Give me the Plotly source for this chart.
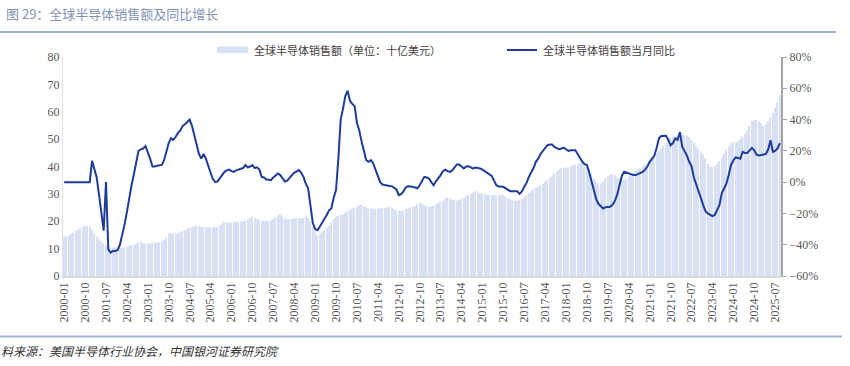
import plotly.graph_objects as go

# ---- data ----
years = list(range(2000, 2026))
months = [f"{y}-{m:02d}" for y in years for m in range(1, 13)][:309]  # 2000-01 .. 2025-09

sales = [
    14.3, 14.6, 15.0, 15.4, 15.8, 16.5, 17.0, 17.5, 18.0, 18.3, 18.4, 18.2,   # 2000
    17.0, 15.5, 14.5, 13.5, 12.8, 12.0, 11.4, 10.9, 10.5, 10.3, 10.4, 10.5,   # 2001
    10.2, 10.2, 10.4, 10.8, 11.0, 11.3, 11.5, 11.8, 12.2, 12.5, 12.0, 11.9,   # 2002
    11.8, 11.9, 12.0, 12.1, 12.2, 12.3, 12.6, 13.2, 14.0, 15.5, 15.8, 15.4,   # 2003
    15.3, 15.6, 16.0, 16.4, 16.8, 17.2, 17.6, 18.0, 18.3, 18.4, 18.3, 18.0,   # 2004
    17.8, 17.7, 17.7, 17.8, 17.8, 17.9, 18.0, 18.5, 19.2, 19.8, 19.6, 19.5,   # 2005
    19.5, 19.6, 19.8, 19.8, 19.9, 20.0, 20.2, 20.6, 21.2, 21.8, 21.3, 20.8,   # 2006
    20.4, 20.2, 20.2, 20.1, 20.2, 20.4, 20.8, 21.4, 22.2, 22.6, 22.0, 21.2,   # 2007
    20.8, 20.8, 20.9, 21.0, 21.1, 21.0, 21.0, 21.2, 21.6, 21.2, 20.0, 18.4,   # 2008
    16.5, 15.0, 15.3, 16.0, 17.0, 17.6, 18.4, 19.6, 20.8, 21.6, 22.0, 22.3,   # 2009
    22.6, 23.0, 23.6, 24.2, 24.6, 25.0, 25.4, 25.8, 26.0, 25.6, 25.0, 24.8,   # 2010
    24.7, 24.6, 24.6, 24.6, 24.7, 24.8, 24.8, 25.0, 25.3, 25.0, 24.5, 24.0,   # 2011
    23.9, 23.7, 24.0, 24.4, 24.8, 25.1, 25.3, 25.6, 26.2, 26.8, 26.5, 26.0,   # 2012
    25.6, 25.3, 25.4, 25.6, 26.2, 26.8, 27.0, 27.4, 28.2, 28.7, 28.4, 28.0,   # 2013
    27.7, 27.5, 27.8, 28.2, 28.6, 29.2, 29.6, 30.0, 30.6, 31.0, 30.6, 30.2,   # 2014
    30.0, 29.8, 29.7, 29.6, 29.6, 29.7, 29.6, 29.5, 29.6, 29.6, 29.0, 28.5,   # 2015
    28.0, 27.6, 27.5, 27.6, 27.8, 28.0, 28.8, 29.6, 30.2, 31.0, 31.6, 32.2,   # 2016
    32.6, 33.2, 33.8, 34.5, 35.2, 36.0, 36.8, 37.6, 38.4, 39.0, 39.4, 39.6,   # 2017
    39.4, 39.8, 40.2, 40.5, 40.8, 41.0, 41.2, 41.3, 41.2, 40.5, 39.0, 37.5,   # 2018
    35.8, 34.5, 33.9, 34.0, 34.6, 35.5, 36.3, 37.0, 37.2, 36.8, 36.0, 35.5,   # 2019
    35.0, 35.2, 35.8, 36.6, 37.2, 37.8, 38.5, 39.0, 39.5, 40.2, 40.6, 41.0,   # 2020
    41.6, 42.5, 43.5, 44.8, 45.8, 46.6, 47.6, 48.6, 49.8, 50.6, 51.0, 51.0,   # 2021
    51.0, 51.2, 51.5, 51.5, 51.3, 50.8, 49.8, 48.8, 47.6, 46.4, 45.5, 44.5,   # 2022
    43.0, 41.0, 40.0, 39.8, 40.2, 41.0, 42.0, 43.4, 44.8, 46.0, 47.4, 48.4,   # 2023
    48.8, 48.9, 49.2, 50.0, 51.0, 52.0, 53.2, 54.8, 56.5, 57.2, 57.0, 56.5,   # 2024
    55.8, 54.8, 55.3, 56.5, 58.0, 59.5, 61.5, 63.5, 66.0,                     # 2025
]

yoy = [
    0, 0, 0, 0, 0, 0, 0, 0, 0, 0, 0, 0,                                        # 2000
    13.6, 8, 3, -8, -20, -31, 0, -43, -45, -44, -44, -43.5,                    # 2001
    -40, -34, -27, -19, -10, -2, 5, 13, 20, 21, 21.5, 23,                      # 2002
    19.5, 15, 10, 10, 10.5, 11, 11, 14, 20, 25, 28, 27,                        # 2003
    29, 31.5, 33, 36, 37, 38.5, 40, 36, 30, 23, 18, 15,                        # 2004
    18, 15, 10, 6, 2, 0, 0.5, 2.5, 4.5, 6.6, 7.5, 8,                           # 2005
    7, 6.6, 7.5, 8, 8.7, 9, 10.9, 9.4, 10, 10.9, 9, 9.5,                       # 2006
    8, 3.4, 3, 1.7, 1.5, 1.3, 3, 4.5, 5.5, 4.5, 2, 0.4,                        # 2007
    1, 3, 4.5, 6, 7, 7.7, 6, 3.4, -1, -4, -15, -26,                            # 2008
    -30, -30.7, -28.5, -26, -24, -21, -18, -16.8, -10, -5, 15, 40,             # 2009
    47, 55, 58.4, 52, 50, 48.6, 38, 33, 26, 20, 14, 13,                        # 2010
    14, 12, 8, 3, 0, -1.5, -2, -2.5, -2.5, -2.6, -3.5, -4.7,                   # 2011
    -8.3, -7.7, -6, -3.4, -2.6, -2.6, -3, -3.4, -4, -2, 1, 3.4,                # 2012
    3, 2.3, 0, -2, 0.5, 2.3, 4.5, 7, 8, 7, 6.6, 7.5,                           # 2013
    9.5, 11.3, 11.3, 10.2, 8.7, 10, 10.2, 9.5, 8.7, 9.4, 9.2, 8.7,             # 2014
    8, 7, 6.2, 5, 4, 1, -2, -2.8, -3, -3, -4, -4.7,                            # 2015
    -5.8, -5.8, -6, -5.8, -7.5, -6, -3, -0.5, 3.4, 6, 9, 13,                   # 2016
    15, 18, 20, 21.5, 23.6, 24, 24, 22.5, 21.5, 21, 21.5, 22,                  # 2017
    21, 20, 20.4, 20.4, 20.4, 18, 15, 13, 11.5, 10.9, 6, 0,                    # 2018
    -7, -11, -14, -15.5, -16.8, -16, -15.8, -15.8, -14.5, -12, -8, -1,         # 2019
    4, 6.6, 6, 5.5, 5, 4.5, 4.5, 5, 5.5, 6.5, 8, 10,                           # 2020
    13, 15, 17, 22, 28, 29.5, 29.7, 29.7, 27, 23.6, 25, 27.9,                  # 2021
    27, 32, 22.6, 20, 17, 13, 10.2, 3, -1, -5, -10, -14.7,                     # 2022
    -18.5, -20, -21, -21.7, -21, -18, -14.7, -7.2, -4, -1, 4.5, 11,            # 2023
    14, 15.8, 15.5, 15, 19.4, 18.7, 18.7, 20, 21.9, 20.4, 17.5, 17,            # 2024
    17.5, 17.7, 18, 21, 26.8, 19.4, 20, 21.5, 25,                              # 2025
]

tick_labels = months[::9]

name_bar = "全球半导体销售额（单位：十亿美元）"
name_line = "全球半导体销售额当月同比"
title_text = "图 29：全球半导体销售额及同比增长"
source_text = "料来源：美国半导体行业协会，中国银河证券研究院"

BAR_COLOR = "#d7e1f3"
LINE_COLOR = "#1f3c98"

# ---- figure ----
fig = go.Figure()
fig.add_trace(go.Bar(x=months, y=sales, name=name_bar, marker=dict(color=BAR_COLOR, line=dict(width=0)),
                     yaxis="y", showlegend=False))
fig.add_trace(go.Scatter(x=months, y=yoy, name=name_line, mode="lines",
                         line=dict(color=LINE_COLOR, width=2), yaxis="y2", showlegend=False))

W, H = 850, 366
L, R, T, B = 63, 781, 57, 276
pw, ph = R - L, B - T


def px(x):
    return (x - L) / pw


def py(y):
    return (B - y) / ph


tickfont = dict(family='"Liberation Serif", "Times New Roman", serif', size=12, color="#595959")

fig.update_layout(
    width=W, height=H,
    margin=dict(l=L, r=W - R, t=T, b=H - B, autoexpand=False),
    paper_bgcolor="white", plot_bgcolor="white",
    bargap=0.42,
    showlegend=False,
    xaxis=dict(type="category", tickmode="array", tickvals=tick_labels, ticktext=tick_labels,
               tickangle=-90, tickfont=tickfont, showgrid=False, showline=True,
               linecolor="#d9d9d9", linewidth=1.5, ticks="", automargin=False,
               range=[-0.5, len(months) - 0.5]),
    yaxis=dict(range=[0, 80], dtick=10, tickfont=tickfont, showgrid=False, zeroline=False,
               showline=True, linecolor="#e3e3e3", linewidth=1, ticks="", automargin=False),
    yaxis2=dict(range=[-60, 80], dtick=20, ticksuffix="%", overlaying="y", side="right",
                tickfont=tickfont, showgrid=False, zeroline=False, showline=True,
                linecolor="#a6a6a6", linewidth=2, ticks="outside", ticklen=4,
                tickcolor="#a6a6a6", automargin=False),
    font=dict(family='"Noto Sans CJK SC", sans-serif'),
)

# header / footer rules
fig.add_shape(type="line", xref="paper", yref="paper", x0=px(0), x1=px(836), y0=py(32), y1=py(32),
              line=dict(color="#9fb1d3", width=2))
fig.add_shape(type="line", xref="paper", yref="paper", x0=px(0), x1=px(842), y0=py(336.5), y1=py(336.5),
              line=dict(color="#9fb1d3", width=2))

# custom legend
fig.add_shape(type="rect", xref="paper", yref="paper", x0=px(217), x1=px(248), y0=py(53), y1=py(46.5),
              fillcolor=BAR_COLOR, line=dict(width=0))
fig.add_shape(type="line", xref="paper", yref="paper", x0=px(507), x1=px(537), y0=py(50), y1=py(50),
              line=dict(color=LINE_COLOR, width=2))
legfont = dict(family='"Noto Sans CJK SC", sans-serif', size=11, color="#404040")
fig.add_annotation(xref="paper", yref="paper", x=px(252), y=py(50), text=name_bar, showarrow=False,
                   xanchor="left", yanchor="middle", font=legfont)
fig.add_annotation(xref="paper", yref="paper", x=px(541), y=py(50), text=name_line, showarrow=False,
                   xanchor="left", yanchor="middle", font=legfont)

# title
fig.add_annotation(xref="paper", yref="paper", x=px(4), y=py(13), text=title_text, showarrow=False,
                   xanchor="left", yanchor="middle",
                   font=dict(family='"Noto Sans CJK SC", sans-serif', size=13, color="#8292b5"))
# source
fig.add_annotation(xref="paper", yref="paper", x=px(-1), y=py(350), text="<i>" + source_text + "</i>",
                   showarrow=False, xanchor="left", yanchor="middle",
                   font=dict(family='"Noto Sans CJK SC", sans-serif', size=12, color="#333333"))

fig.write_html("out.html", config={"displayModeBar": False},
               post_script="document.body.style.margin='0';document.body.style.overflow='hidden';")
